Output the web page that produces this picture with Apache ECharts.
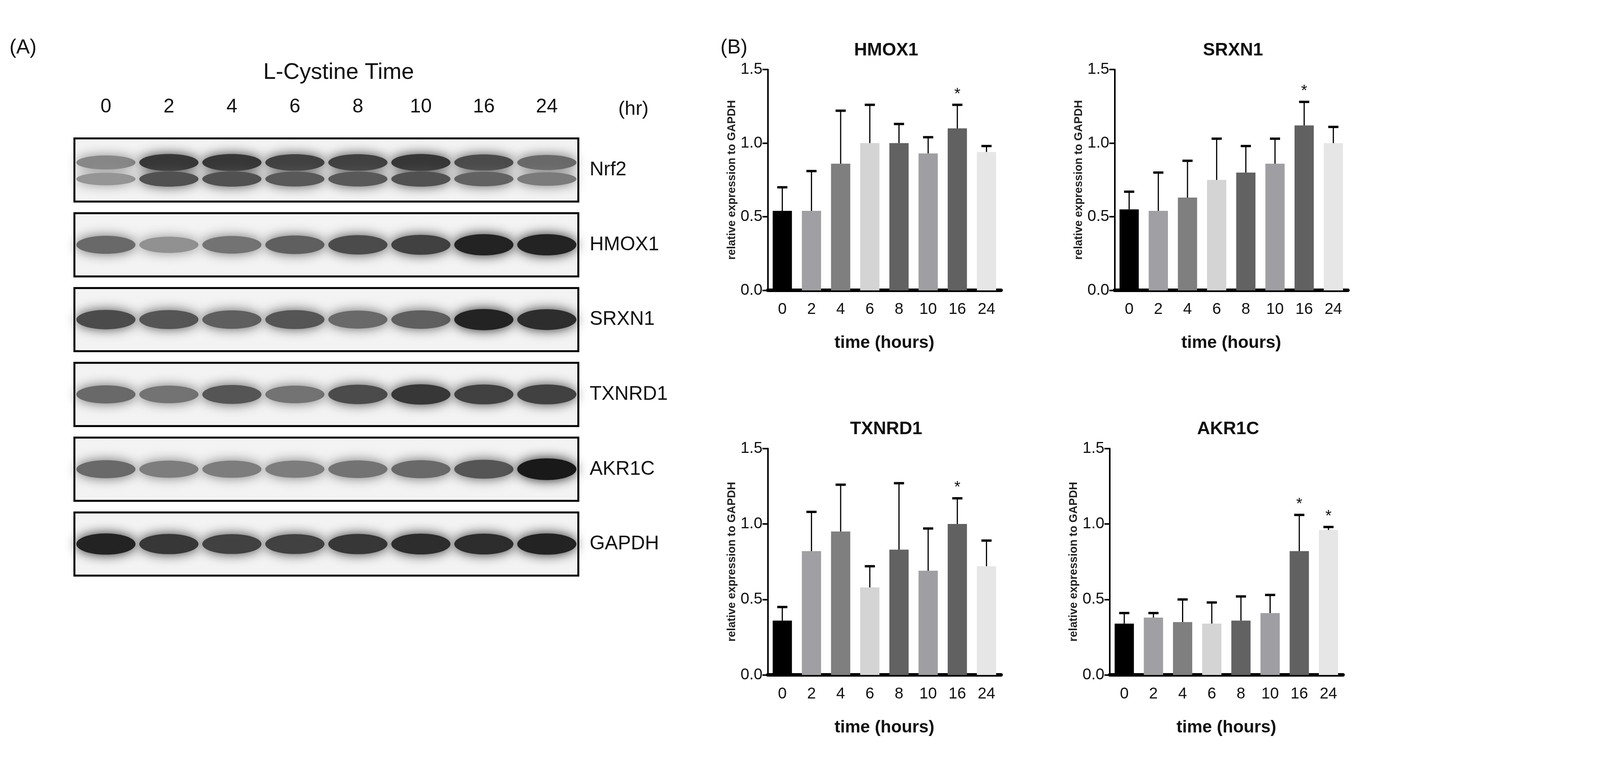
<!DOCTYPE html>
<html><head><meta charset="utf-8">
<script src="https://cdn.jsdelivr.net/npm/echarts@6/dist/echarts.min.js"></script>
<style>html,body{margin:0;padding:0;background:#fff}#c{width:4255px;height:2008px}</style>
</head><body><div id="c"></div>
<script>
const lanes = ['0','2','4','6','8','10','16','24'];
const proteins = ['Nrf2','HMOX1','SRXN1','TXNRD1','AKR1C','GAPDH'];
const bandNrf2 = [0.45,0.85,0.85,0.8,0.8,0.85,0.75,0.6];
const bandHMOX1 = [0.6,0.4,0.55,0.65,0.75,0.8,0.95,0.95];
const bandSRXN1 = [0.75,0.7,0.65,0.7,0.6,0.65,0.95,0.9];
const bandTXNRD1 = [0.6,0.55,0.7,0.55,0.75,0.85,0.8,0.8];
const bandAKR1C = [0.6,0.5,0.5,0.5,0.55,0.6,0.7,1.0];
const bandGAPDH = [0.95,0.85,0.8,0.8,0.85,0.9,0.9,0.95];

const hours = ['0','2','4','6','8','10','16','24'];
const hmox1Mean = [0.54,0.54,0.86,1.00,1.00,0.93,1.10,0.94];
const hmox1Upper = [0.70,0.81,1.22,1.26,1.13,1.04,1.26,0.98];
const hmox1Star = [0,0,0,0,0,0,1,0];
const srxn1Mean = [0.55,0.54,0.63,0.75,0.80,0.86,1.12,1.00];
const srxn1Upper = [0.67,0.80,0.88,1.03,0.98,1.03,1.28,1.11];
const srxn1Star = [0,0,0,0,0,0,1,0];
const txnrd1Mean = [0.36,0.82,0.95,0.58,0.83,0.69,1.00,0.72];
const txnrd1Upper = [0.45,1.08,1.26,0.72,1.27,0.97,1.17,0.89];
const txnrd1Star = [0,0,0,0,0,0,1,0];
const akr1cMean = [0.34,0.38,0.35,0.34,0.36,0.41,0.82,0.96];
const akr1cUpper = [0.41,0.41,0.50,0.48,0.52,0.53,1.06,0.98];
const akr1cStar = [0,0,0,0,0,0,1,1];
const barColors = ['#000000','#a0a0a4','#7f7f7f','#d4d4d4','#626262','#9f9fa3','#616161','#e6e6e6'];

const S = 0.962;
const s = v => v*S;
const bands = [bandNrf2,bandHMOX1,bandSRXN1,bandTXNRD1,bandAKR1C,bandGAPDH];
const blotData = [];
bands.forEach((arr,r)=>arr.forEach((v,l)=>blotData.push([l,r,v])));

const narrow = "'Liberation Sans Narrow','Liberation Sans',Arial,sans-serif";
const sans = 'Arial, Liberation Sans, sans-serif';
const grids = [], xAxes = [], yAxes = [], series = [], titles = [];

const BL = s(198), BW = s(1341);
grids.push({left:BL, top:s(353), width:BW, height:s(1195)});
xAxes.push({type:'category', gridIndex:0, data:lanes, position:'top', axisLine:{show:false}, axisTick:{show:false},
  axisLabel:{fontSize:s(52), color:'#111', margin:s(42), fontFamily:sans}});
yAxes.push({type:'category', gridIndex:0, data:proteins, inverse:true, position:'right', axisLine:{show:false}, axisTick:{show:false},
  axisLabel:{fontSize:s(52), color:'#111', margin:s(30), align:'left', fontFamily:sans}});
series.push({type:'custom', xAxisIndex:0, yAxisIndex:0, data:proteins.map((p,i)=>[0,i]), z:1,
  renderItem(params, api){
    const c = api.coord([0, api.value(1)]);
    const sz = api.size([1,1]);
    const h = sz[1]*0.845;
    return {type:'rect', shape:{x:BL, y:c[1]-h/2, width:BW, height:h},
      style:{fill:'#f3f3f3', stroke:'#000', lineWidth:5}};
  }});
series.push({type:'custom', xAxisIndex:0, yAxisIndex:0, data:blotData, z:2,
  renderItem(params, api){
    const l = api.value(0), r = api.value(1), v = api.value(2);
    const c = api.coord([l, r]);
    const sz = api.size([1,1]);
    const w = sz[0]*0.47, hh = s(r===0?20:24)*(0.7+0.5*v);
    const g = Math.round(225 - 200*v);
    const col = 'rgb('+g+','+g+','+g+')';
    const kids = [];
    if (r===0){
      kids.push({type:'ellipse', shape:{cx:c[0], cy:c[1]-s(20), rx:w, ry:hh}, style:{fill:col, shadowBlur:30, shadowColor:col}});
      const g2 = Math.round(225-170*v);
      const col2='rgb('+g2+','+g2+','+g2+')';
      kids.push({type:'ellipse', shape:{cx:c[0], cy:c[1]+s(24), rx:w, ry:hh*0.9}, style:{fill:col2, shadowBlur:30, shadowColor:col2}});
    } else {
      kids.push({type:'ellipse', shape:{cx:c[0], cy:c[1], rx:w, ry:hh}, style:{fill:col, shadowBlur:30, shadowColor:col}});
    }
    return {type:'group', children:kids};
  }});

const charts = [
  {name:'HMOX1', mean:hmox1Mean, up:hmox1Upper, star:hmox1Star, left:2043, top:185, height:588},
  {name:'SRXN1', mean:srxn1Mean, up:srxn1Upper, star:srxn1Star, left:2966, top:185, height:588},
  {name:'TXNRD1', mean:txnrd1Mean, up:txnrd1Upper, star:txnrd1Star, left:2043, top:1194, height:603},
  {name:'AKR1C', mean:akr1cMean, up:akr1cUpper, star:akr1cStar, left:2953, top:1194, height:603}
];
charts.forEach((ch,k)=>{
  const gi = k+1;
  grids.push({left:s(ch.left), top:s(ch.top), width:s(621), height:s(ch.height)});
  titles.push({text:ch.name, left:s(ch.left+310), top:s(ch.top-80), textAlign:'center',
    textStyle:{fontSize:s(48), fontWeight:'bold', color:'#111', fontFamily:narrow}});
  xAxes.push({type:'category', gridIndex:gi, data:hours, name:'time (hours)', nameLocation:'middle', nameGap:s(118),
    nameTextStyle:{fontSize:s(46), fontWeight:'bold', color:'#111', fontFamily:narrow},
    axisLine:{lineStyle:{color:'#000', width:9}}, axisTick:{alignWithLabel:true, length:s(22), lineStyle:{color:'#000', width:4}},
    axisLabel:{fontSize:s(42), color:'#111', margin:s(30), fontFamily:narrow}});
  yAxes.push({type:'value', gridIndex:gi, min:0, max:1.5, interval:0.5, name:'relative expression to GAPDH', nameLocation:'middle', nameGap:s(80),
    nameTextStyle:{fontSize:s(30), fontWeight:'bold', color:'#222', fontFamily:sans},
    splitLine:{show:false}, axisLine:{show:true, lineStyle:{color:'#000', width:4}}, axisTick:{show:true, length:s(14), lineStyle:{color:'#000', width:4}},
    axisLabel:{fontSize:s(42), color:'#111', margin:s(14), fontFamily:narrow, formatter:v=>v.toFixed(1)}});
  series.push({type:'bar', xAxisIndex:gi, yAxisIndex:gi, barCategoryGap:'34%', z:2,
    data:ch.mean.map((v,i)=>({value:v, itemStyle:{color:barColors[i]}}))});
  series.push({type:'custom', xAxisIndex:gi, yAxisIndex:gi, z:3,
    data:ch.mean.map((v,i)=>[i, v, ch.up[i], ch.star[i]]),
    renderItem(params, api){
      const i=api.value(0);
      const p0=api.coord([i, api.value(1)]), p1=api.coord([i, api.value(2)]);
      const kids=[
        {type:'line', shape:{x1:p0[0], y1:p0[1], x2:p1[0], y2:p1[1]}, style:{stroke:'#000', lineWidth:3}},
        {type:'line', shape:{x1:p1[0]-13, y1:p1[1], x2:p1[0]+13, y2:p1[1]}, style:{stroke:'#000', lineWidth:6}}
      ];
      if (api.value(3)) kids.push({type:'text', style:{text:'*', x:p1[0], y:p1[1]-s(28), align:'center', verticalAlign:'middle', fontSize:s(42), fill:'#111', fontFamily:'Arial'}});
      return {type:'group', children:kids};
    }});
});

titles.push({text:'(A)', left:s(20), top:s(95), textStyle:{fontSize:s(54), fontWeight:'normal', color:'#111', fontFamily:sans}});
titles.push({text:'(B)', left:s(1912), top:s(95), textStyle:{fontSize:s(54), fontWeight:'normal', color:'#111', fontFamily:sans}});
titles.push({text:'L-Cystine Time', left:s(896), top:s(158), textAlign:'center', textStyle:{fontSize:s(60), fontWeight:'normal', color:'#111', fontFamily:sans}});
titles.push({text:'(hr)', left:s(1640), top:s(260), textStyle:{fontSize:s(52), fontWeight:'normal', color:'#111', fontFamily:sans}});

const chart = echarts.init(document.getElementById('c'));
chart.setOption({animation:false, backgroundColor:'#fff', title:titles, grid:grids, xAxis:xAxes, yAxis:yAxes, series:series});
</script></body></html>
